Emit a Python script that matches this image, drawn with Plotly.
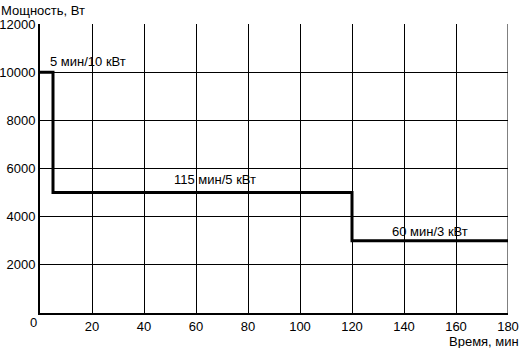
import plotly.graph_objects as go

# Data
time_min = [0, 5, 5, 120, 120, 180]
power_w = [10000, 10000, 5000, 5000, 3000, 3000]
label_text = ["5 мин/10 кВт", "115 мин/5 кВт", "60 мин/3 кВт"]
label_x = [18.5, 67.3, 150]
label_y = [10450, 5540, 3380]
x_ticks = [20, 40, 60, 80, 100, 120, 140, 160, 180]
y_ticks = [2000, 4000, 6000, 8000, 10000, 12000]

font_family = "Liberation Sans, Arial, sans-serif"
fs = 13

fig = go.Figure()
fig.add_trace(go.Scatter(x=time_min, y=power_w, mode="lines",
                         line=dict(color="black", width=3), showlegend=False,
                         hoverinfo="skip"))

for t, x, y in zip(label_text, label_x, label_y):
    fig.add_annotation(x=x, y=y, text=t, showarrow=False,
                       font=dict(family=font_family, size=fs, color="black"))

fig.add_annotation(x=0, y=0, xref="x", yref="y", text="0", showarrow=False,
                   xshift=-7, yshift=-9,
                   font=dict(family=font_family, size=fs, color="black"))
fig.add_annotation(x=0, y=1, xref="paper", yref="paper", text="Мощность, Вт",
                   showarrow=False, xanchor="left", yanchor="bottom",
                   xshift=-41, yshift=4,
                   font=dict(family=font_family, size=fs, color="black"))
fig.add_annotation(x=1, y=0, xref="paper", yref="paper", text="Время, мин",
                   showarrow=False, xanchor="right", yanchor="top",
                   xshift=13, yshift=-19,
                   font=dict(family=font_family, size=fs, color="black"))

fig.update_xaxes(range=[0, 180], tickvals=x_ticks, ticktext=[str(v) for v in x_ticks],
                 ticks="", showgrid=True, automargin=False,
                 gridcolor="black", gridwidth=1, showline=True, linecolor="black",
                 linewidth=2, mirror=False, zeroline=False, fixedrange=True,
                 tickfont=dict(family=font_family, size=fs, color="black"))
fig.update_yaxes(range=[0, 12000], tickvals=y_ticks, ticktext=[str(v) for v in y_ticks],
                 ticks="", showgrid=True, automargin=False,
                 gridcolor="black", gridwidth=1, showline=True, linecolor="black",
                 linewidth=2, zeroline=False, fixedrange=True,
                 tickfont=dict(family=font_family, size=fs, color="black"))

fig.add_shape(type="line", xref="x", yref="y", x0=180, x1=180, y0=0, y1=12000,
              line=dict(color="black", width=1))

fig.update_layout(width=522, height=348, margin=dict(l=40, r=14, t=24, b=35),
                  plot_bgcolor="white", paper_bgcolor="white")

fig.write_html("out.html")
